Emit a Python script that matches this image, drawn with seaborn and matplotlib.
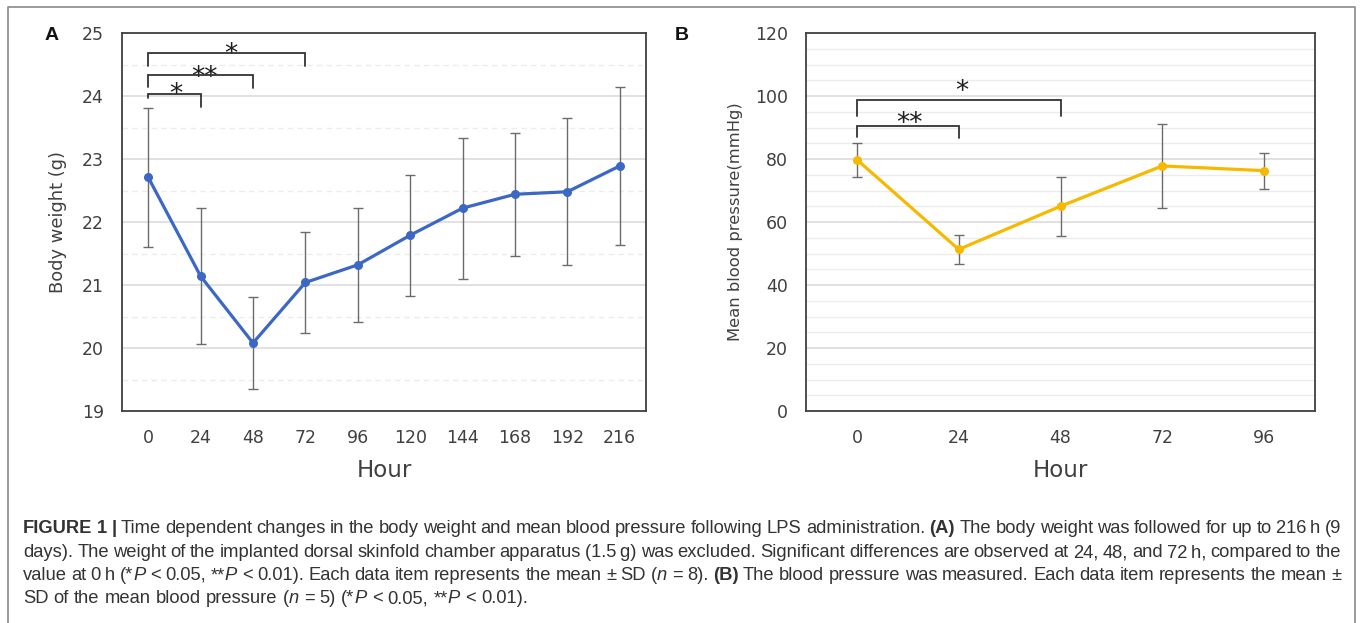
import numpy as np
import pandas as pd
import matplotlib
matplotlib.use("Agg")
import matplotlib.pyplot as plt
import seaborn as sns
from matplotlib.ticker import MultipleLocator
from matplotlib.lines import Line2D

# ---------------- data ----------------
hours_a = [0, 24, 48, 72, 96, 120, 144, 168, 192, 216]
weight_mean = [22.71, 21.14, 20.08, 21.04, 21.32, 21.79, 22.22, 22.44, 22.48, 22.89]
weight_sd = [1.10, 1.08, 0.73, 0.80, 0.90, 0.96, 1.12, 0.98, 1.17, 1.25]

hours_b = [0, 24, 48, 72, 96]
bp_mean = [79.8, 51.3, 65.0, 77.8, 76.3]
bp_sd = [5.4, 4.7, 9.3, 13.3, 5.7]

# significance brackets: (start index, end index, label)
sig_a = [(0, 1, "*"), (0, 2, "**"), (0, 3, "*")]
sig_b = [(0, 1, "**"), (0, 2, "*")]

W, H = 1360, 623
sns.set_theme(style="white")
plt.rcParams["font.family"] = ["DejaVu Sans"]

fig = plt.figure(figsize=(W / 100, H / 100), dpi=100)
fig.patch.set_facecolor("white")

def fx(x):
    return x / W

def fy(y):
    return 1 - y / H

ax_a = fig.add_axes([fx(122), fy(411), (646 - 122) / W, (411 - 33) / H])
ax_b = fig.add_axes([fx(806), fy(411), (1315 - 806) / W, (411 - 33) / H])

TXT = "#404040"

def style_axes(ax, ylim, major, minor, minor_ls):
    ax.set_ylim(*ylim)
    ax.yaxis.set_major_locator(MultipleLocator(major))
    ax.yaxis.set_minor_locator(MultipleLocator(minor))
    ax.grid(False)
    ax.yaxis.grid(True, which="major", color="#d9d9d9", lw=1.1, zorder=0)
    ax.yaxis.grid(True, which="minor", color="#ececec", lw=1.0, ls=minor_ls, zorder=0)
    ax.set_axisbelow(True)
    for s in ax.spines.values():
        s.set_color("#404040")
        s.set_linewidth(1.3)
        s.set_visible(True)
    ax.tick_params(which="both", length=0, labelsize=12.5, colors=TXT, pad=13)

def draw_panel(ax, hours, mean, sd, color, ylim, major, minor, minor_ls):
    df = pd.DataFrame({"idx": np.arange(len(hours)), "hour": hours, "mean": mean, "sd": sd})
    ax.errorbar(df["idx"], df["mean"], yerr=df["sd"], fmt="none", ecolor="#6b6b6b",
                elinewidth=1.0, capsize=3.5, capthick=1.0, zorder=2)
    sns.lineplot(data=df, x="idx", y="mean", ax=ax, color=color, linewidth=2.3,
                 marker="o", markersize=6.5, markeredgewidth=0, zorder=3)
    ax.set_xlim(-0.5, len(hours) - 0.5)
    ax.set_xticks(df["idx"])
    ax.set_xticklabels([str(h) for h in hours])
    style_axes(ax, ylim, major, minor, minor_ls)
    ax.set_xlabel("Hour", fontsize=16.5, color=TXT)

STAR_FS = 19

def bracket(ax, i0, i1, yh, yl0, yl1, label, sx, sy):
    ax.plot([i0, i0, i1, i1], [yl0, yh, yh, yl1], color="#333333", lw=1.3, zorder=4,
            solid_joinstyle="miter")
    ax.annotate(label, xy=(sx, sy), xytext=(0, -0.593 * STAR_FS), textcoords="offset points",
                ha="center", va="baseline", fontsize=STAR_FS, color="#1e1e1e")

# ---------------- panel A ----------------
draw_panel(ax_a, hours_a, weight_mean, weight_sd, "#3b67c5", (19, 25), 1, 0.5, (0, (4, 3)))
ax_a.set_ylabel("Body weight (g)", fontsize=12.9, color=TXT)
ax_a.yaxis.set_label_coords((67 - 122) / 524, 0.5)
ax_a.xaxis.set_label_coords(0.5, -(459 - 411) / 378)

bracket(ax_a, sig_a[0][0], sig_a[0][1], 24.03, 23.97, 23.83, sig_a[0][2], 0.52, 24.16)
bracket(ax_a, sig_a[1][0], sig_a[1][1], 24.34, 24.14, 24.12, sig_a[1][2], 1.08, 24.42)
bracket(ax_a, sig_a[2][0], sig_a[2][1], 24.68, 24.48, 24.47, sig_a[2][2], 1.57, 24.79)

# ---------------- panel B ----------------
draw_panel(ax_b, hours_b, bp_mean, bp_sd, "#f7b900", (0, 120), 20, 5, "-")
ax_b.set_ylabel("Mean blood pressure(mmHg)", fontsize=11.8, color=TXT)
ax_b.yaxis.set_label_coords((743 - 806) / 509, 0.5)
ax_b.xaxis.set_label_coords(0.5, -(459 - 411) / 378)

bracket(ax_b, sig_b[0][0], sig_b[0][1], 90.5, 87.1, 86.6, sig_b[0][2], 0.52, 93.7)
bracket(ax_b, sig_b[1][0], sig_b[1][1], 98.8, 93.5, 93.5, sig_b[1][2], 1.03, 104.1)

# panel letters
fig.text(fx(52), fy(35), "A", fontsize=14, fontweight="bold", ha="center", va="center",
         family=["Liberation Sans", "DejaVu Sans"], color="#111111")
fig.text(fx(682), fy(35), "B", fontsize=14, fontweight="bold", ha="center", va="center",
         family=["Liberation Sans", "DejaVu Sans"], color="#111111")

# outer frame (open at bottom)
fig.add_artist(Line2D([fx(8), fx(8), fx(1355), fx(1355)], [fy(640), fy(7), fy(7), fy(640)],
                      transform=fig.transFigure, color="#8a8a8a", lw=1.2))

# ---------------- caption ----------------
CAP_FAM = ["Liberation Sans", "DejaVu Sans"]
CAP_FS = 13.2
CAP_COL = "#333333"
N, B, I = "normal", "bold", "italic"
caption_lines = [
    [("FIGURE 1 |", B, N),
     (" Time dependent changes in the body weight and mean blood pressure following LPS administration. ", N, N),
     ("(A)", B, N),
     (" The body weight was followed for up to 216\u2009h (9", N, N)],
    [("days). The weight of the implanted dorsal skinfold chamber apparatus (1.5\u2009g) was excluded. "
      "Significant differences are observed at 24, 48, and 72\u2009h, compared to the", N, N)],
    [("value at 0\u2009h (*", N, N), ("P", N, I), (" < 0.05, **", N, N), ("P", N, I),
     (" < 0.01). Each data item represents the mean \u00b1 SD (", N, N), ("n", N, I),
     (" = 8). ", N, N), ("(B)", B, N),
     (" The blood pressure was measured. Each data item represents the mean \u00b1", N, N)],
    [("SD of the mean blood pressure (", N, N), ("n", N, I), (" = 5) (*", N, N), ("P", N, I),
     (" < 0.05, **", N, N), ("P", N, I), (" < 0.01).", N, N)],
]
baselines = [533, 557, 580, 603]
x_left, x_right = 23, 1341

fig.canvas.draw()
renderer = fig.canvas.get_renderer()

def piece_width(p):
    t = fig.text(0, 0, p[0], fontsize=CAP_FS, fontweight=p[1], fontstyle=p[2], family=CAP_FAM)
    w = t.get_window_extent(renderer).width
    t.remove()
    return w

def draw_caption_line(segs, y, justify):
    words = [[]]
    for txt, wgt, sty in segs:
        parts = txt.split(" ")
        for k, p in enumerate(parts):
            if k > 0:
                words.append([])
            if p:
                words[-1].append((p, wgt, sty))
    words = [w for w in words if w]
    widths = [[piece_width(p) for p in w] for w in words]
    total = sum(sum(w) for w in widths)
    if justify and len(words) > 1:
        gap = (x_right - x_left - total) / (len(words) - 1)
    else:
        gap = CAP_FS * 100 / 72 * 0.278
    x = x_left
    for w, ws in zip(words, widths):
        for p, pw in zip(w, ws):
            fig.text(fx(x), fy(y), p[0], fontsize=CAP_FS, fontweight=p[1], fontstyle=p[2],
                     family=CAP_FAM, color=CAP_COL, ha="left", va="baseline")
            x += pw
        x += gap

for k, (segs, y) in enumerate(zip(caption_lines, baselines)):
    draw_caption_line(segs, y, justify=(k < len(caption_lines) - 1))

fig.savefig("out.png", dpi=100, facecolor="white")
